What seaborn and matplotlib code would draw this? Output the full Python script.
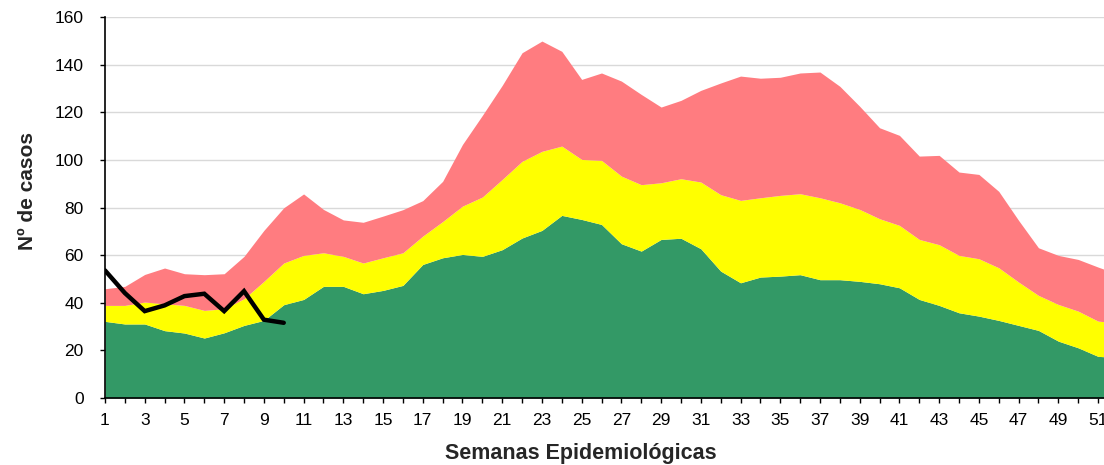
import numpy as np
import pandas as pd
import matplotlib
matplotlib.use("Agg")
import matplotlib.pyplot as plt
import seaborn as sns

weeks = list(range(1, 53))
zona_exito = [32.2, 31.1, 31.1, 28.3, 27.3, 25.2, 27.4, 30.5, 32.6, 39.2,
              41.4, 46.9, 46.9, 43.8, 45.2, 47.3, 56.1, 58.9, 60.3, 59.5,
              62.3, 67.2, 70.4, 76.7, 75.0, 72.9, 64.8, 61.7, 66.6, 67.1,
              62.7, 53.3, 48.4, 50.8, 51.2, 51.8, 49.7, 49.7, 49.0, 48.0,
              46.3, 41.4, 38.9, 35.8, 34.4, 32.6, 30.5, 28.4, 23.9, 21.1,
              17.5, 17.0]
zona_seguridad = [38.9, 38.9, 40.3, 39.6, 38.9, 36.8, 37.5, 41.7, 49.0, 56.7,
                  59.9, 61.0, 59.5, 56.7, 58.9, 61.0, 68.0, 74.1, 80.6, 84.4,
                  91.8, 99.4, 103.6, 105.8, 100.2, 99.8, 93.2, 89.6, 90.4, 92.1,
                  90.7, 85.4, 83.0, 84.1, 85.1, 85.8, 84.1, 82.0, 79.2, 75.3,
                  72.5, 66.6, 64.4, 59.9, 58.5, 54.7, 48.7, 43.1, 39.3, 36.5,
                  32.3, 31.5]
zona_alarma = [45.9, 46.9, 51.9, 54.6, 52.2, 51.8, 52.2, 59.5, 70.4, 79.9,
               85.7, 79.2, 74.8, 73.8, 76.4, 79.1, 82.9, 91.0, 106.5, 118.7,
               131.3, 145.0, 149.9, 145.6, 133.8, 136.5, 133.1, 127.5, 122.2, 125.0,
               129.2, 132.3, 135.2, 134.3, 134.7, 136.5, 136.9, 130.9, 122.5, 113.5,
               110.3, 101.6, 101.9, 94.9, 93.9, 86.8, 74.6, 63.1, 59.9, 58.2,
               55.0, 52.0]
casos_weeks = list(range(1, 11))
casos = [53.6, 44.1, 36.5, 38.9, 42.8, 43.8, 36.5, 44.9, 32.9, 31.6]

sns.set_theme(style="white")
plt.rcParams['font.family'] = ['Liberation Sans', 'DejaVu Sans']

fig = plt.figure(figsize=(11.04, 4.65), dpi=100)
ax = fig.add_axes([0.0951, 0.144, 0.9049, 0.8194])

ax.fill_between(weeks, 0, zona_exito, color="#339966", linewidth=0, zorder=2)
ax.fill_between(weeks, zona_exito, zona_seguridad, color="#FFFF00", linewidth=0, zorder=2)
ax.fill_between(weeks, zona_seguridad, zona_alarma, color="#FF7C80", linewidth=0, zorder=2)

df = pd.DataFrame({"semana": casos_weeks, "casos": casos})
sns.lineplot(data=df, x="semana", y="casos", color="black", linewidth=3.2,
             ax=ax, zorder=4, solid_capstyle="round", solid_joinstyle="miter")

ax.set_yticks(range(0, 161, 20))
ax.set_xticks(weeks, minor=False)
ax.set_xticklabels([str(w) if w % 2 == 1 else "" for w in weeks])
ax.set_xlim(1, 51.3)
ax.set_ylim(0, 160)
ax.grid(axis="y", color="#d9d9d9", linewidth=1.0, zorder=0)
ax.set_axisbelow(True)

for s in ["top", "right"]:
    ax.spines[s].set_visible(False)
for s in ["left", "bottom"]:
    ax.spines[s].set_visible(True)
    ax.spines[s].set_color("black")
    ax.spines[s].set_linewidth(1.2)
    ax.spines[s].set_zorder(5)

ax.tick_params(axis="both", which="major", direction="out", length=3.8, width=1,
               color="black", labelsize=12.5, labelcolor="black",
               bottom=True, left=True)
ax.tick_params(axis="y", pad=11.5)
ax.tick_params(axis="x", pad=7)

ax.set_xlabel("Semanas Epidemiológicas", fontsize=15.5, fontweight="bold")
ax.set_ylabel("Nº de casos", fontsize=15, fontweight="bold")
ax.xaxis.set_label_coords(0.4765, -0.118)
ax.yaxis.set_label_coords(-0.068, 0.543)
if ax.get_legend():
    ax.get_legend().remove()

fig.savefig("out.png", dpi=100)
